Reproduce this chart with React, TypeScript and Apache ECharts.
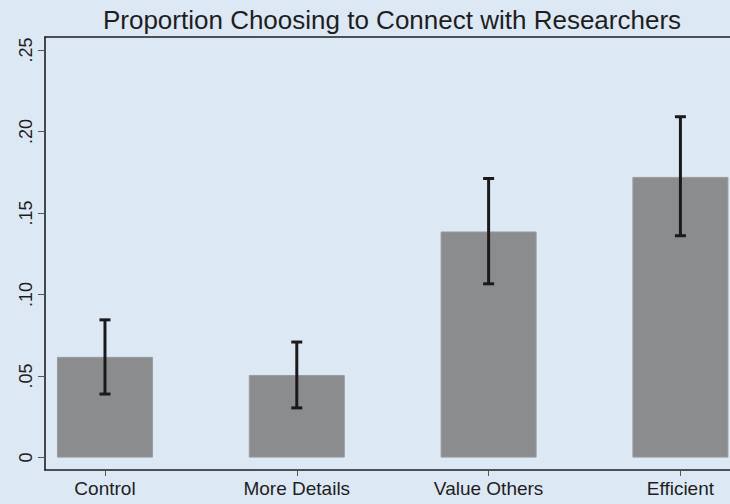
import React, { useEffect, useRef } from "react";
import * as echarts from "echarts";

const categories = ["Control", "More Details", "Value Others", "Efficient"];
const proportions = [0.0618, 0.0507, 0.1387, 0.1722];
const lowerCI = [0.039, 0.0305, 0.1066, 0.1361];
const upperCI = [0.0845, 0.0709, 0.1712, 0.2091];
const yTicks = [0, 0.05, 0.1, 0.15, 0.2, 0.25];
const yTickLabels = ["0", ".05", ".10", ".15", ".20", ".25"];
const titleText = "Proportion Choosing to Connect with Researchers";

const FONT = "'Liberation Sans', Arial, Helvetica, sans-serif";
const INK = "#1e1e1e";

export default function App() {
  const ref = useRef<HTMLDivElement>(null);
  useEffect(() => {
    document.body.style.margin = "0";
    if (!ref.current) return;
    const chart = echarts.init(ref.current, null, { renderer: "svg" });
    const xPos = categories.map((_, i) => i + 1);
    chart.setOption({
      animation: false,
      backgroundColor: "#dde8f5",
      textStyle: { fontFamily: FONT },
      graphic: [
        {
          type: "text",
          x: 392,
          y: 20,
          style: {
            text: titleText,
            font: `26px ${FONT}`,
            fill: INK,
            textAlign: "center",
            textVerticalAlign: "middle",
          },
        },
      ],
      grid: { left: 45, top: 37, right: 0, bottom: 34, containLabel: false },
      xAxis: [
        {
          type: "value",
          min: 0.6873,
          max: 4.2585,
          splitLine: { show: false },
          axisLine: { show: true, onZero: false, lineStyle: { color: INK, width: 1.6 } },
          axisTick: {
            show: true,
            length: 6,
            customValues: xPos,
            lineStyle: { color: "#555", width: 1 },
          },
          axisLabel: {
            show: true,
            customValues: xPos,
            margin: 9,
            fontSize: 19,
            color: INK,
            fontFamily: FONT,
            formatter: (v: number) => categories[Math.round(v) - 1] ?? "",
          },
        },
        {
          type: "value",
          position: "top",
          min: 0.6873,
          max: 4.2585,
          splitLine: { show: false },
          axisLine: { show: true, onZero: false, lineStyle: { color: INK, width: 1.6 } },
          axisTick: { show: false },
          axisLabel: { show: false },
        },
      ],
      yAxis: {
        type: "value",
        min: -0.0076,
        max: 0.258,
        splitLine: { show: false },
        axisLine: { show: true, onZero: false, lineStyle: { color: INK, width: 1.6 } },
        axisTick: {
          show: true,
          length: 7,
          customValues: yTicks,
          lineStyle: { color: "#555", width: 1 },
        },
        axisLabel: {
          show: true,
          customValues: yTicks,
          rotate: 90,
          margin: 10,
          fontSize: 18,
          color: INK,
          fontFamily: FONT,
          formatter: (v: number) => {
            const idx = yTicks.findIndex((t) => Math.abs(t - v) < 1e-6);
            return idx >= 0 ? yTickLabels[idx] : "";
          },
        },
      },
      series: [
        {
          type: "bar",
          xAxisIndex: 0,
          barWidth: 96,
          data: proportions.map((p, i) => [i + 1, p]),
          itemStyle: { color: "#8b8c8e", borderColor: "#9a9b9d", borderWidth: 1 },
        },
        {
          type: "custom",
          xAxisIndex: 0,
          data: categories.map((_, i) => [i + 1, lowerCI[i], upperCI[i]]),
          z: 10,
          renderItem: (params: any, api: any) => {
            const x = api.value(0);
            const lo = api.coord([x, api.value(1)]);
            const hi = api.coord([x, api.value(2)]);
            const hw = 5.5;
            const style = { stroke: "#1a1a1a", lineWidth: 3 };
            return {
              type: "group",
              children: [
                { type: "line", shape: { x1: hi[0], y1: hi[1], x2: lo[0], y2: lo[1] }, style },
                { type: "line", shape: { x1: hi[0] - hw, y1: hi[1], x2: hi[0] + hw, y2: hi[1] }, style },
                { type: "line", shape: { x1: lo[0] - hw, y1: lo[1], x2: lo[0] + hw, y2: lo[1] }, style },
              ],
            };
          },
        },
      ],
    });
    return () => chart.dispose();
  }, []);
  return <div ref={ref} style={{ width: 730, height: 504 }} />;
}
